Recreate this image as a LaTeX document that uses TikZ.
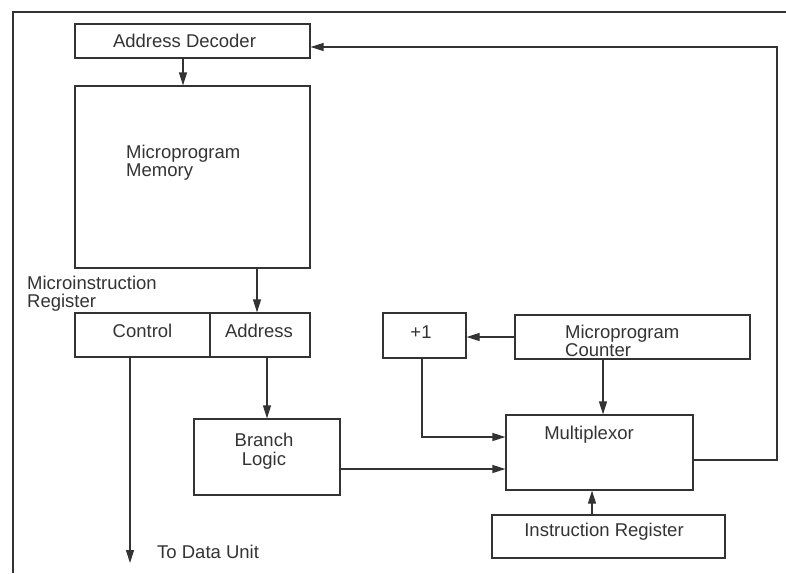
\documentclass[tikz,border=0pt]{standalone}
\usepackage{fontspec}
\setmainfont{Liberation Sans}
\usetikzlibrary{arrows.meta}
\definecolor{ink}{gray}{0.2}
\tikzset{
  blk/.style={draw=ink, line width=1.2pt, rectangle, inner sep=0pt},
  lbl/.style={text=ink, inner sep=0pt, font=\fontsize{18.5}{18.5}\selectfont},
  arr/.style={draw=ink, line width=1.2pt, -{Triangle[length=13pt,width=8pt]}},
  ln/.style={draw=ink, line width=1.2pt}
}
\begin{document}
\begin{tikzpicture}[x=1pt,y=-1pt]
\useasboundingbox (0,0) rectangle (786,573);
% outer frame
\draw[ln] (786,12) -- (13,12) -- (13,573);
% boxes
\node[blk, minimum width=235pt, minimum height=34pt] (AD) at (192.5,41) {};
\node[lbl] at (184.5,41) {Address Decoder};
\node[blk, minimum width=235pt, minimum height=182pt] (MM) at (192.5,177) {};
\node[lbl, anchor=west, align=left] at (126,162.5) {Microprogram\\Memory};
\node[lbl, anchor=west, align=left] (MIR) at (27,293.5) {Microinstruction\\Register};
\node[blk, minimum width=135pt, minimum height=44pt] (Ctrl) at (142.5,335) {};
\node[lbl] at (142.5,331) {Control};
\node[blk, minimum width=100pt, minimum height=44pt] (Addr) at (260,335) {};
\node[lbl] at (259,331) {Address};
\node[blk, minimum width=146pt, minimum height=76pt] (BL) at (267,457) {};
\node[lbl, align=center] at (264,451) {Branch\\Logic};
\node[blk, minimum width=83pt, minimum height=45pt] (P1) at (424.5,335.5) {};
\node[lbl] at (421,332) {+1};
\node[blk, minimum width=235pt, minimum height=44pt] (MPC) at (632.5,337) {};
\node[lbl, anchor=west, align=left] at (565,341) {Microprogram\\Counter};
\node[blk, minimum width=187pt, minimum height=75pt] (Mux) at (599.5,452.5) {};
\node[lbl] at (589,435) {Multiplexor};
\node[blk, minimum width=233pt, minimum height=43pt] (IR) at (608.5,536.5) {};
\node[lbl] at (604,532) {Instruction Register};
\node[lbl, anchor=west] (TDU) at (157,552) {To Data Unit};
% coordinates
\coordinate (a1) at ([xshift=-9.5pt]AD.south);
\coordinate (a2) at ([xshift=-3pt]Addr.north);
\coordinate (a3) at ([xshift=-12.5pt]Ctrl.south);
\coordinate (dataout) at (130,563);
\coordinate (a4) at ([xshift=-7.5pt]Mux.south);
\coordinate (a5) at ([xshift=3.5pt]Mux.north);
\coordinate (corner) at (777,47);
% connectors
\draw[arr] (a1) -- (a1 |- MM.north);
\draw[arr] (a2 |- MM.south) -- (a2);
\draw[arr] (a3) -- (dataout);
\draw[arr] (BL.north |- Addr.south) -- (BL.north);
\draw[arr] ([yshift=-12pt]BL.east) -- ([yshift=-12pt]BL.east -| Mux.west);
\draw[arr] ([xshift=-2.5pt]P1.south) |- ([yshift=15.5pt]Mux.west);
\draw[arr] (MPC.west) -- (MPC.west -| P1.east);
\draw[arr] (a5 |- MPC.south) -- (a5);
\draw[arr] (a4 |- IR.north) -- (a4);
\draw[arr] ([yshift=-7.5pt]Mux.east) -| (corner) -- (corner -| AD.east);
\end{tikzpicture}
\end{document}
